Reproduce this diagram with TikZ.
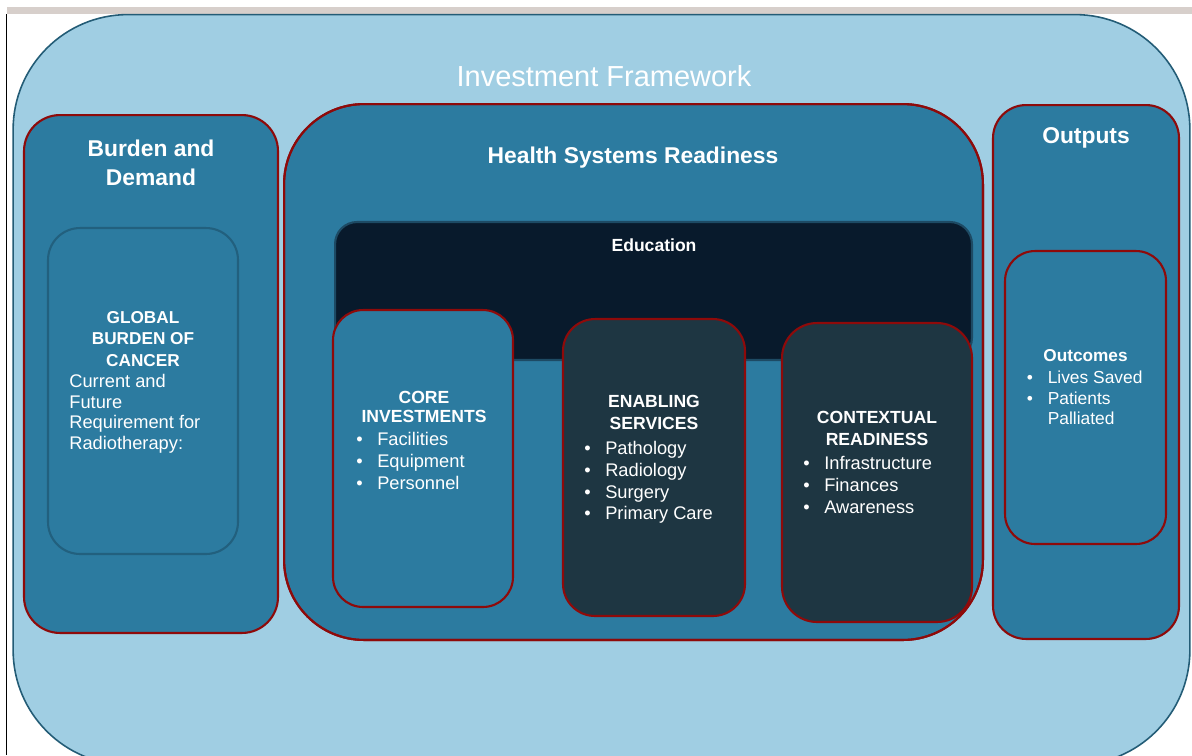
\documentclass[tikz,border=0pt]{standalone}
\usepackage{fontspec}
\setmainfont{Liberation Sans}

\definecolor{sky}{HTML}{A0CEE3}
\definecolor{sea}{HTML}{2C7BA0}
\definecolor{rim}{HTML}{8E0A0A}
\definecolor{night}{HTML}{081A2C}
\definecolor{slate}{HTML}{1E3642}
\definecolor{deep}{HTML}{235C76}
\definecolor{deepteal}{HTML}{22607E}
\definecolor{eduedge}{HTML}{1D4A64}
\definecolor{band}{HTML}{D7CFCB}

\newcommand{\itm}{\makebox[11.9pt][l]{\textbullet}}

\tikzset{
  panel/.style={rectangle, draw=rim, line width=1.2pt, fill=sea, outer sep=0pt, inner sep=0pt},
  heading/.style={text=white, font=\fontsize{13}{16.4}\selectfont\bfseries, align=center, anchor=north, inner sep=0pt},
  boxtitle/.style={text=white, font=\fontsize{10}{12.5}\selectfont\bfseries, align=center, anchor=north, inner sep=0pt},
  items/.style={text=white, font=\fontsize{10.4}{12.5}\selectfont, align=left, anchor=north west, inner sep=0pt},
}

\begin{document}
\begin{tikzpicture}[x=0.02cm, y=-0.02cm]
  \useasboundingbox (0,0) rectangle (1192,755);
  \clip (0,0) rectangle (1192,755);
  \fill[white] (0,0) rectangle (1192,755);
  \fill[band] (7,7) rectangle (1192,14);
  \draw[black, line width=0.8pt] (6.6,14) -- (6.6,755);

  % outer frame
  \node[panel, draw=deep, line width=0.9pt, fill=sky, rounded corners=2.3cm, minimum width=23.54cm, minimum height=15.01cm] (frame) at (601.5,389.75) {};
  \node[text=white, font=\fontsize{16.5}{20}\selectfont, anchor=north, inner sep=0pt] (frametxt) at (604,65) {Investment Framework};

  % burden and demand
  \node[panel, rounded corners=0.72cm, minimum width=5.08cm, minimum height=10.36cm] (burden) at (151,374) {};
  \node[heading] (burdentxt) at (151,140) {Burden and\\Demand};
  \node[panel, draw=deepteal, rounded corners=0.64cm, minimum width=3.8cm, minimum height=6.52cm] (gbc) at (143,391) {};
  \node[boxtitle, font=\fontsize{9.8}{12.2}\selectfont\bfseries] (gbctxt) at (143,311) {GLOBAL\\BURDEN OF\\CANCER};
  \node[items, font=\fontsize{10.4}{11.9}\selectfont] (gbclist) at (69,373.5) {Current and\\Future\\Requirement for\\Radiotherapy:};

  % health systems readiness
  \node[panel, rounded corners=1.6cm, minimum width=13.98cm, minimum height=10.72cm] (hsr) at (633.5,372) {};
  \node[heading] (hsrtxt) at (633,147) {Health Systems Readiness};
  \node[panel, draw=eduedge, fill=night, rounded corners=0.44cm, minimum width=12.74cm, minimum height=2.76cm] (edu) at (653.5,291) {};
  \node[boxtitle] (edutxt) at (654,238) {Education};

  \node[panel, rounded corners=0.6cm, minimum width=3.6cm, minimum height=5.94cm] (core) at (423,458.5) {};
  \node[boxtitle, font=\fontsize{10}{11}\selectfont\bfseries] (coretxt) at (424,391) {CORE\\INVESTMENTS};
  \node[items] (corelist) at (356,432) {\itm Facilities\\\itm Equipment\\\itm Personnel};

  \node[panel, fill=slate, rounded corners=0.64cm, minimum width=3.64cm, minimum height=5.94cm] (ens) at (654,467.5) {};
  \node[boxtitle] (enstxt) at (654,395) {ENABLING\\SERVICES};
  \node[items] (enslist) at (584,440.5) {\itm Pathology\\\itm Radiology\\\itm Surgery\\\itm Primary Care};

  \node[panel, fill=slate, rounded corners=0.7cm, minimum width=3.8cm, minimum height=5.98cm] (ctx) at (877,472.5) {};
  \node[boxtitle] (ctxtxt) at (877,411) {CONTEXTUAL\\READINESS};
  \node[items] (ctxlist) at (803,455.5) {\itm Infrastructure\\\itm Finances\\\itm Awareness};

  % rim of the readiness box again, over the corner of ctx
  \draw[rim, line width=1.2pt, rounded corners=1.6cm] (hsr.south west) rectangle (hsr.north east);

  % outputs
  \node[panel, rounded corners=0.66cm, minimum width=3.72cm, minimum height=10.68cm] (out) at (1086,372) {};
  \node[heading] (outtxt) at (1086,127) {Outputs};
  \node[panel, rounded corners=0.6cm, minimum width=3.22cm, minimum height=5.86cm] (oc) at (1085.5,397.5) {};
  \node[boxtitle, font=\fontsize{9.8}{11.7}\selectfont\bfseries] (octxt) at (1085.5,349) {Outcomes};
  \node[items, font=\fontsize{9.9}{11.7}\selectfont] (oclist) at (1026.5,370.5) {\itm Lives Saved\\\itm Patients\\\hspace*{11.9pt}Palliated};
\end{tikzpicture}
\end{document}
